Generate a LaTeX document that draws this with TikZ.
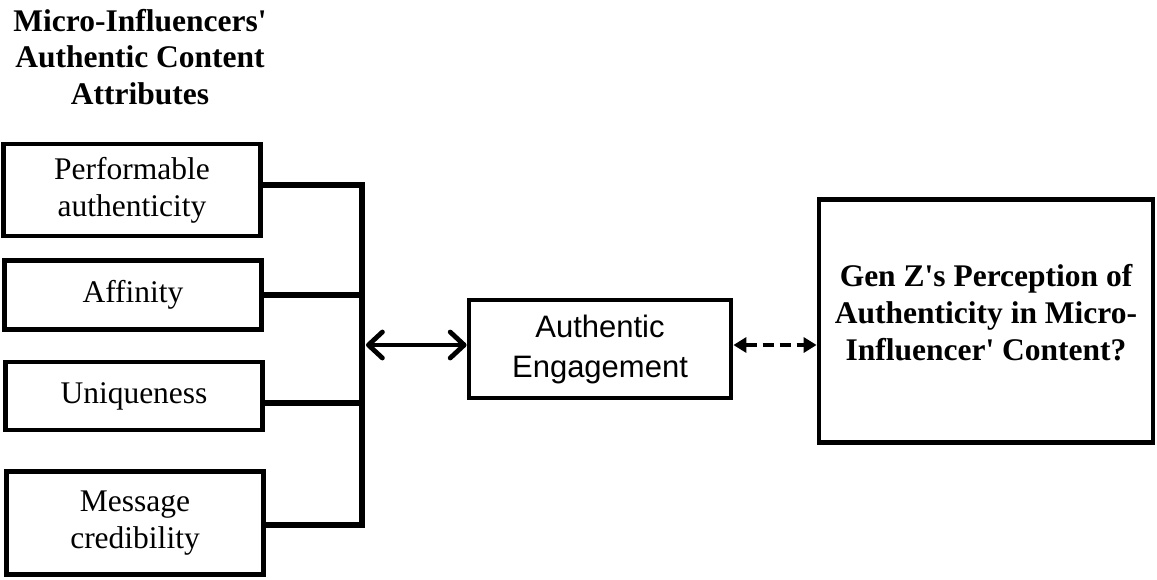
\documentclass[tikz,border=0pt]{standalone}
\usepackage{fontspec}
\setmainfont{Liberation Serif}
\setsansfont{Liberation Sans}
\usetikzlibrary{arrows.meta}

\newcommand{\apos}{\textquotesingle}

\tikzset{
  basefont/.style={font=\fontsize{15.75}{18.5}\selectfont},
  heading/.style={basefont, font=\fontsize{15.75}{18.3}\selectfont\bfseries, align=center, inner sep=0pt},
  attrbox/.style={draw, line width=2.4pt, basefont, align=center, inner sep=0pt, minimum width=128.5pt},
  engbox/.style={draw, line width=2.4pt, font=\sffamily\fontsize{15.5}{20}\selectfont, align=center, inner sep=0pt, minimum width=131pt, minimum height=49pt},
  genbox/.style={draw, line width=2.4pt, font=\fontsize{15.75}{18.5}\selectfont\bfseries, align=center, inner sep=0pt, minimum width=167pt, minimum height=121.5pt},
  bus/.style={line width=3.2pt},
  twoway/.style={{Straight Barb[round,length=7pt,width=13pt]}-{Straight Barb[round,length=7pt,width=13pt]}, line width=2.4pt},
  dashlink/.style={{Triangle[length=6.5pt,width=7.5pt]}-{Triangle[length=6.5pt,width=7.5pt]}, line width=2pt, dash pattern=on 5.5pt off 3pt}
}

\begin{document}
\begin{tikzpicture}[x=0.5pt,y=-0.5pt]
    \useasboundingbox (0,0) rectangle (1157,579);

    \node[heading] (attrs) at (140,57) {Micro-Influencers\apos\\Authentic Content\\Attributes};

    \node[attrbox, minimum height=46pt] (perf) at (132,190) {Performable\\authenticity};
    \node[attrbox, minimum height=34.5pt] (aff) at (133,295) {Affinity};
    \node[attrbox, minimum height=34pt] (uniq) at (134,396) {Uniqueness};
    \node[attrbox, minimum height=51.5pt] (msg) at (135,523) {Message\\credibility};

    \node[engbox] (eng) at (600,349) {Authentic\\Engagement};
    % strut on the last line lifts the text a little, as in the original
    \node[genbox] (genz) at (986,321) {Gen Z\apos s Perception of\\Authenticity in Micro-\\Influencer\apos\ Content?\rule[-8.5pt]{0pt}{8.5pt}};

    \coordinate (busbot) at (362,525);
    \coordinate (busmid) at (366,345);

    \draw[bus] ([yshift=2.5pt]perf.east) -| (busbot) -- (msg.east |- busbot);
    \draw[bus] (aff.east) -- (aff.east -| busbot);
    \draw[bus] ([yshift=-3.5pt]uniq.east) -- ([yshift=-3.5pt]uniq.east -| busbot);

    \draw[twoway] (busmid) -- (eng.west |- busmid);
    \draw[dashlink] ([yshift=2pt]eng.east) -- ([yshift=2pt]eng.east -| genz.west);
\end{tikzpicture}
\end{document}
